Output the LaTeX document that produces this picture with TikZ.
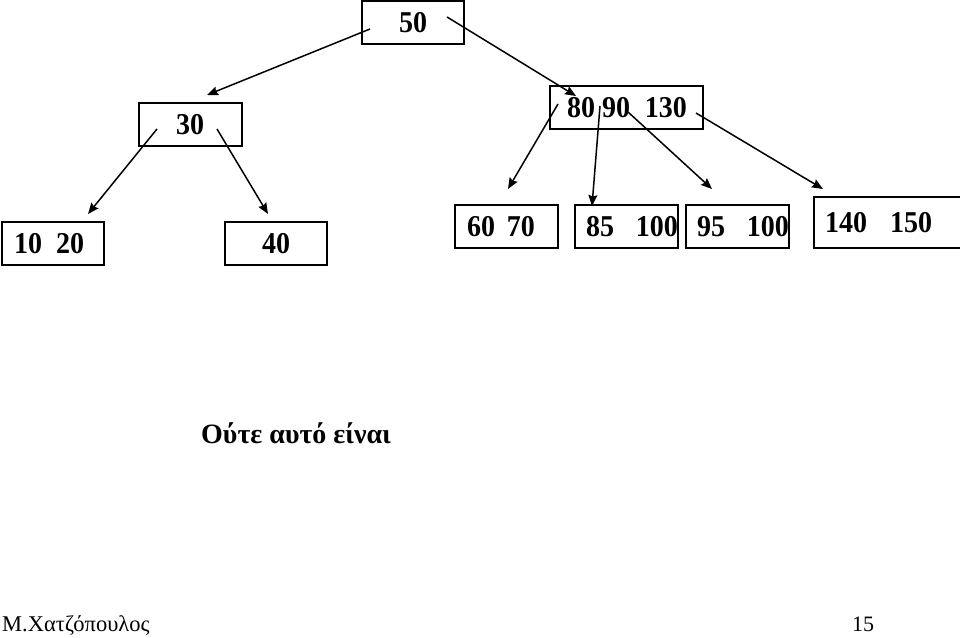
\documentclass[tikz,border=0pt]{standalone}
\usepackage{fontspec}
\usepackage{graphicx}
\setmainfont{Liberation Serif}
\usetikzlibrary{arrows.meta}
\newcommand\bxt[3]{\makebox[#1pt][l]{\hspace*{#2pt}\scalebox{1}[1.08]{#3}}}
\tikzset{
  keybox/.style={draw, line width=1.7pt, inner sep=0pt, minimum height=43pt,
    font=\fontsize{28}{30}\selectfont\bfseries},
  ptr/.style={line width=1.5pt, -{Stealth[length=11pt,width=9pt,inset=1.5pt]}},
}
\begin{document}
\begin{tikzpicture}[x=1pt,y=-1pt]
\useasboundingbox (0,0) rectangle (960,637);
% nodes
\node[keybox] (n50) at (413,22.5) {\bxt{102}{37}{50}};
\node[keybox] (n30) at (190.5,124.5) {\bxt{103}{37}{30}};
\node[keybox] (n1020) at (53,243.5) {\bxt{102}{12}{10\hspace{14pt}20}};
\node[keybox] (n40) at (276,243.5) {\bxt{102}{37}{40}};
\node[keybox] (n80) at (626.5,107.5) {\bxt{153}{17}{80\hspace{7pt}90\hspace{15pt}130}};
\node[keybox] (n6070) at (506.5,226.5) {\bxt{103}{12}{60\hspace{12pt}70}};
\node[keybox] (n85) at (626.5,226.5) {\bxt{103}{11}{85\hspace{22pt}100}};
\node[keybox] (n95) at (737.5,226.5) {\bxt{103}{11}{95\hspace{22pt}100}};
\node[keybox, minimum height=51pt] (n140) at (887.5,222.5) {\bxt{147}{11}{140\hspace{23pt}150}};
% connector ends
\coordinate (s1) at (370,29);   \coordinate (t1) at (207,95);
\coordinate (s2) at (447,17);   \coordinate (t2) at (576,96);
\coordinate (s3) at (157,129);  \coordinate (t3) at (88,214);
\coordinate (s4) at (217,129);  \coordinate (t4) at (268,214);
\coordinate (s5) at (558,104);  \coordinate (t5) at (508,189);
\coordinate (s6) at (600,106);  \coordinate (t6) at (592,206);
\coordinate (s7) at (628,112);  \coordinate (t7) at (712,189);
\coordinate (s8) at (696,113);  \coordinate (t8) at (823,189);
\draw[ptr] (s1) -- (t1);
\draw[ptr] (s2) -- (t2);
\draw[ptr] (s3) -- (t3);
\draw[ptr] (s4) -- (t4);
\draw[ptr] (s5) -- (t5);
\draw[ptr] (s6) -- (t6);
\draw[ptr] (s7) -- (t7);
\draw[ptr] (s8) -- (t8);
% texts
\node[anchor=base west, inner sep=0pt, font=\fontsize{28}{30}\selectfont\bfseries] (cap) at (201,443) {Ούτε αυτό είναι};
\node[anchor=base west, inner sep=0pt, font=\fontsize{22.5}{26}\selectfont] (auth) at (2,631) {Μ.Χατζόπουλος};
\node[anchor=base west, inner sep=0pt, font=\fontsize{22}{26}\selectfont] (pg) at (852,631) {15};
\end{tikzpicture}
\end{document}
